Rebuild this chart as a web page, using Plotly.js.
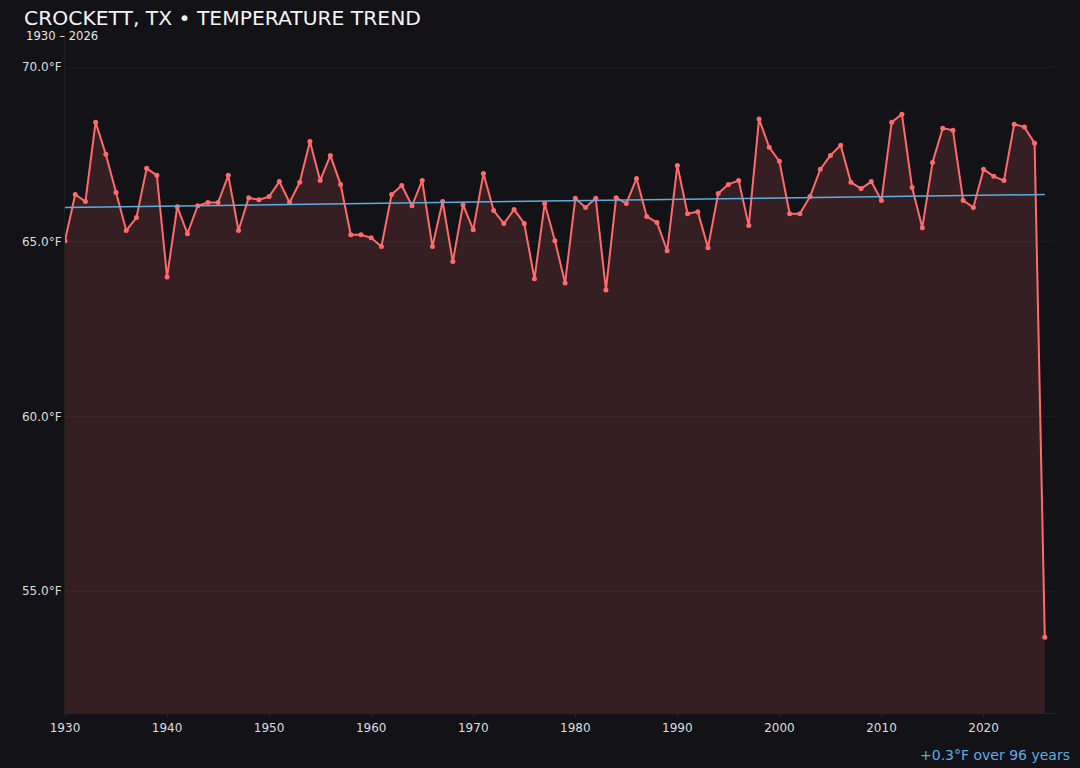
<!DOCTYPE html>
<html>
<head>
<meta charset="utf-8">
<script src="https://cdn.plot.ly/plotly-3.0.1.min.js"></script>
<style>
  html, body { margin: 0; padding: 0; background: #131217; }
  #chart { width: 1080px; height: 768px; }
</style>
</head>
<body>
<div id="chart"></div>
<script>
var years = [];
for (var y = 1930; y <= 2026; y++) years.push(y);

var temps = [
  65.03, 66.35, 66.15, 68.42, 67.50, 66.41, 65.32, 65.69, 67.10, 66.90,
  63.99, 66.00, 65.23, 66.03, 66.12, 66.12, 66.90, 65.32, 66.26, 66.20,
  66.29, 66.72, 66.12, 66.70, 67.87, 66.75, 67.47, 66.64, 65.20, 65.20,
  65.11, 64.86, 66.35, 66.61, 66.03, 66.75, 64.86, 66.15, 64.43, 66.06,
  65.34, 66.95, 65.89, 65.52, 65.92, 65.52, 63.94, 66.09, 65.03, 63.82,
  66.24, 65.98, 66.24, 63.62, 66.26, 66.09, 66.81, 65.72, 65.55, 64.74,
  67.18, 65.80, 65.86, 64.83, 66.38, 66.64, 66.75, 65.46, 68.51, 67.70,
  67.30, 65.80, 65.80, 66.29, 67.07, 67.47, 67.76, 66.70, 66.52, 66.72,
  66.18, 68.42, 68.65, 66.55, 65.40, 67.27, 68.25, 68.19, 66.18, 65.98,
  67.07, 66.87, 66.75, 68.36, 68.28, 67.82, 53.68
];

// trend line end points
var trendYears = [1930, 2026];
var trendTemps = [65.98, 66.35];

var yTicks = [55, 60, 65, 70];
var yTickText = ['55.0°F', '60.0°F', '65.0°F', '70.0°F'];

var tempTrace = {
  x: years,
  y: temps,
  mode: 'lines+markers',
  fill: 'tozeroy',
  fillcolor: 'rgba(255,107,107,0.15)',
  line: { color: '#ff6b6b', width: 2 },
  marker: { color: '#ff6b6b', size: 5 },
  hoverinfo: 'x+y'
};

var trendTrace = {
  x: trendYears,
  y: trendTemps,
  mode: 'lines',
  line: { color: '#5dade2', width: 1.5 },
  hoverinfo: 'skip'
};

var layout = {
  width: 1080,
  height: 768,
  paper_bgcolor: '#131217',
  plot_bgcolor: '#131217',
  showlegend: false,
  margin: { l: 65, r: 25, t: 38, b: 55 },
  font: { family: 'DejaVu Sans', color: '#e6e6e6', size: 12 },
  title: {
    text: 'CROCKETT, TX • TEMPERATURE TREND',
    font: { family: 'DejaVu Sans', size: 20.3, color: '#f4f4f4' },
    x: 24 / 1080,
    xanchor: 'left',
    xref: 'container',
    y: 1 - 11 / 768,
    yanchor: 'top'
  },
  xaxis: {
    range: [1930, 2027],
    tickvals: [1930, 1940, 1950, 1960, 1970, 1980, 1990, 2000, 2010, 2020],
    showgrid: false,
    zeroline: false,
    showline: true,
    linecolor: '#26252c',
    linewidth: 1,
    ticks: 'outside',
    ticklen: 4,
    tickcolor: '#26252c',
    tickfont: { size: 12, color: '#dddddd' }
  },
  yaxis: {
    range: [51.51, 70.83],
    tickvals: yTicks,
    ticktext: yTickText,
    showgrid: true,
    gridcolor: 'rgba(255,255,255,0.04)',
    zeroline: false,
    showline: true,
    linecolor: '#1f1e25',
    ticks: '',
    tickfont: { size: 12, color: '#dddddd' }
  },
  annotations: [
    {
      text: '1930 – 2026',
      xref: 'paper', yref: 'paper',
      x: (24 - 65) / 990, xanchor: 'left',
      y: 1 + 3 / 675, yanchor: 'middle', yshift: -1,
      showarrow: false,
      font: { size: 11.6, color: '#e6e6e6' }
    },
    {
      text: '+0.3°F over 96 years',
      xref: 'paper', yref: 'paper',
      x: 1, xanchor: 'right', xshift: 17,
      y: 0, yanchor: 'middle', yshift: -42,
      showarrow: false,
      font: { size: 14, color: '#5dade2' }
    }
  ]
};

Plotly.newPlot('chart', [tempTrace, trendTrace], layout, { displayModeBar: false });
</script>
</body>
</html>
